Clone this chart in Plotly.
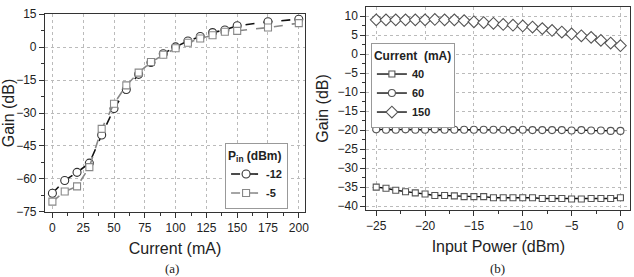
import plotly.graph_objects as go

# ---- data: panel (a) ----
current_ma = [0, 10, 20, 30, 40, 50, 60, 70, 80, 90, 100, 110, 120, 130, 140, 150, 175, 200]
gain_pin_m12 = [-66.5, -60.7, -57.0, -52.8, -40.0, -28.0, -19.3, -12.4, -7.0, -3.0, 0.1, 2.8, 4.8, 6.6, 7.8, 9.7, 11.5, 12.7]
gain_pin_m5 = [-70.3, -65.7, -63.4, -54.6, -37.2, -25.8, -17.4, -11.6, -6.8, -3.5, -0.5, 2.0, 3.9, 5.4, 7.0, 7.4, 8.9, 10.9]

# ---- data: panel (b) ----
input_power_dbm = list(range(-25, 1))
gain_40ma = [-35.0, -35.3, -35.8, -36.2, -36.5, -36.8, -37.2, -37.2, -37.3, -37.5, -37.5, -37.5, -37.8,
             -37.8, -37.8, -37.8, -37.8, -38.0, -38.0, -38.0, -38.1, -38.1, -38.0, -38.0, -38.0, -37.8]
gain_60ma = [-19.8, -19.9, -19.9, -19.8, -19.9, -19.9, -19.8, -19.9, -19.9, -19.9, -19.9, -19.9, -19.9,
             -19.9, -20.0, -19.9, -20.0, -20.0, -20.0, -20.0, -20.1, -20.0, -20.1, -20.1, -20.2, -20.2]
gain_150ma = [9.0, 9.0, 9.0, 9.0, 9.0, 9.0, 9.1, 9.0, 9.0, 8.8, 8.5, 8.3, 8.1,
              7.8, 7.6, 7.4, 7.1, 6.7, 6.2, 5.8, 5.3, 4.8, 4.4, 3.6, 2.9, 2.2]

x_ticks_a = [0, 25, 50, 75, 100, 125, 150, 175, 200]
y_ticks_a = [-75, -60, -45, -30, -15, 0, 15]
x_ticks_b = [-25, -20, -15, -10, -5, 0]
y_ticks_b = [-40, -35, -30, -25, -20, -15, -10, -5, 0, 5, 10]

FONT = "Liberation Sans, Arial, sans-serif"
SERIF = "Liberation Serif, Times New Roman, serif"
fig = go.Figure()

fig.add_trace(go.Scatter(
    x=current_ma, y=gain_pin_m12, name="<b>-12</b>", mode="lines+markers",
    line=dict(color="#111111", width=1.6, dash="dash"),
    marker=dict(symbol="circle", size=8, color="white", line=dict(width=1.1, color="#333333")),
    xaxis="x", yaxis="y", legend="legend"))
fig.add_trace(go.Scatter(
    x=current_ma, y=gain_pin_m5, name="<b>-5</b>", mode="lines+markers",
    line=dict(color="#888888", width=1.6, dash="dash"),
    marker=dict(symbol="square", size=7, color="white", line=dict(width=1.1, color="#888888")),
    xaxis="x", yaxis="y", legend="legend"))

for ys, nm, sym, sz in [(gain_40ma, "<b>40</b>", "square", 6),
                        (gain_60ma, "<b>60</b>", "circle", 7),
                        (gain_150ma, "<b>150</b>", "diamond", 9)]:
    fig.add_trace(go.Scatter(
        x=input_power_dbm, y=ys, name=nm, mode="lines+markers",
        line=dict(color="#111111", width=1.4),
        marker=dict(symbol=sym, size=sz, color="white", line=dict(width=1.1, color="#555555")),
        xaxis="x2", yaxis="y2", legend="legend2"))

axis_common = dict(showline=True, linecolor="#333333", linewidth=1.2, mirror=True,
                   ticks="outside", ticklen=5, tickcolor="#333333", automargin=False,
                   showgrid=True, gridcolor="#bbbbbb", griddash="dot", gridwidth=1,
                   zeroline=False, tickfont=dict(family=FONT, size=12, color="#222222"),
                   title_font=dict(family=FONT, size=16, color="#222222"))

fig.update_layout(
    width=634, height=277, margin=dict(l=0, r=0, t=0, b=0, autoexpand=False),
    paper_bgcolor="white", plot_bgcolor="white",
    font=dict(family=FONT, color="#222222"),
    xaxis=dict(domain=[0.071, 0.481], anchor="y", range=[-6, 205], tickvals=x_ticks_a,
               minor=dict(ticks="outside", ticklen=3, dtick=12.5, tick0=0, tickcolor="#333333"),
               title=dict(text="Current (mA)", standoff=8), **axis_common),
    yaxis=dict(domain=[0.235, 0.949], anchor="x", range=[-75, 15], tickvals=y_ticks_a,
               minor=dict(ticks="outside", ticklen=3, dtick=7.5, tick0=0, tickcolor="#333333"),
               title=dict(text="Gain (dB)", standoff=4), **axis_common),
    xaxis2=dict(domain=[0.578, 0.994], anchor="y2", range=[-26, 1], tickvals=x_ticks_b,
                minor=dict(ticks="outside", ticklen=3, dtick=2.5, tick0=0, tickcolor="#333333"),
                title=dict(text="Input Power (dBm)", standoff=8), **axis_common),
    yaxis2=dict(domain=[0.242, 0.975], anchor="x2", range=[-41, 12.4], tickvals=y_ticks_b,
                minor=dict(ticks="outside", ticklen=3, dtick=2.5, tick0=0, tickcolor="#333333"),
                title=dict(text="Gain (dB)", standoff=4), **axis_common),
    legend=dict(x=0.355, y=0.484, xanchor="left", yanchor="top",
                bgcolor="white", bordercolor="#999999", borderwidth=1,
                title=dict(text="<b>P<sub>in</sub> (dBm)</b>", font=dict(family=FONT, size=12)),
                font=dict(family=FONT, size=11), tracegroupgap=0, itemwidth=30),
    legend2=dict(x=0.585, y=0.845, xanchor="left", yanchor="top",
                 bgcolor="white", bordercolor="#999999", borderwidth=1,
                 title=dict(text="<b>Current  (mA)</b>", font=dict(family=FONT, size=12)),
                 font=dict(family=FONT, size=11), tracegroupgap=0, itemwidth=30),
)
fig.add_annotation(text="(a)", x=172 / 634, y=1 - 268 / 277, xref="paper", yref="paper",
                   xanchor="center", yanchor="middle",
                   showarrow=False, font=dict(family=SERIF, size=13, color="#222222"))
fig.add_annotation(text="(b)", x=497 / 634, y=1 - 268 / 277, xref="paper", yref="paper",
                   xanchor="center", yanchor="middle",
                   showarrow=False, font=dict(family=SERIF, size=13, color="#222222"))

fig.write_html("out.html")
